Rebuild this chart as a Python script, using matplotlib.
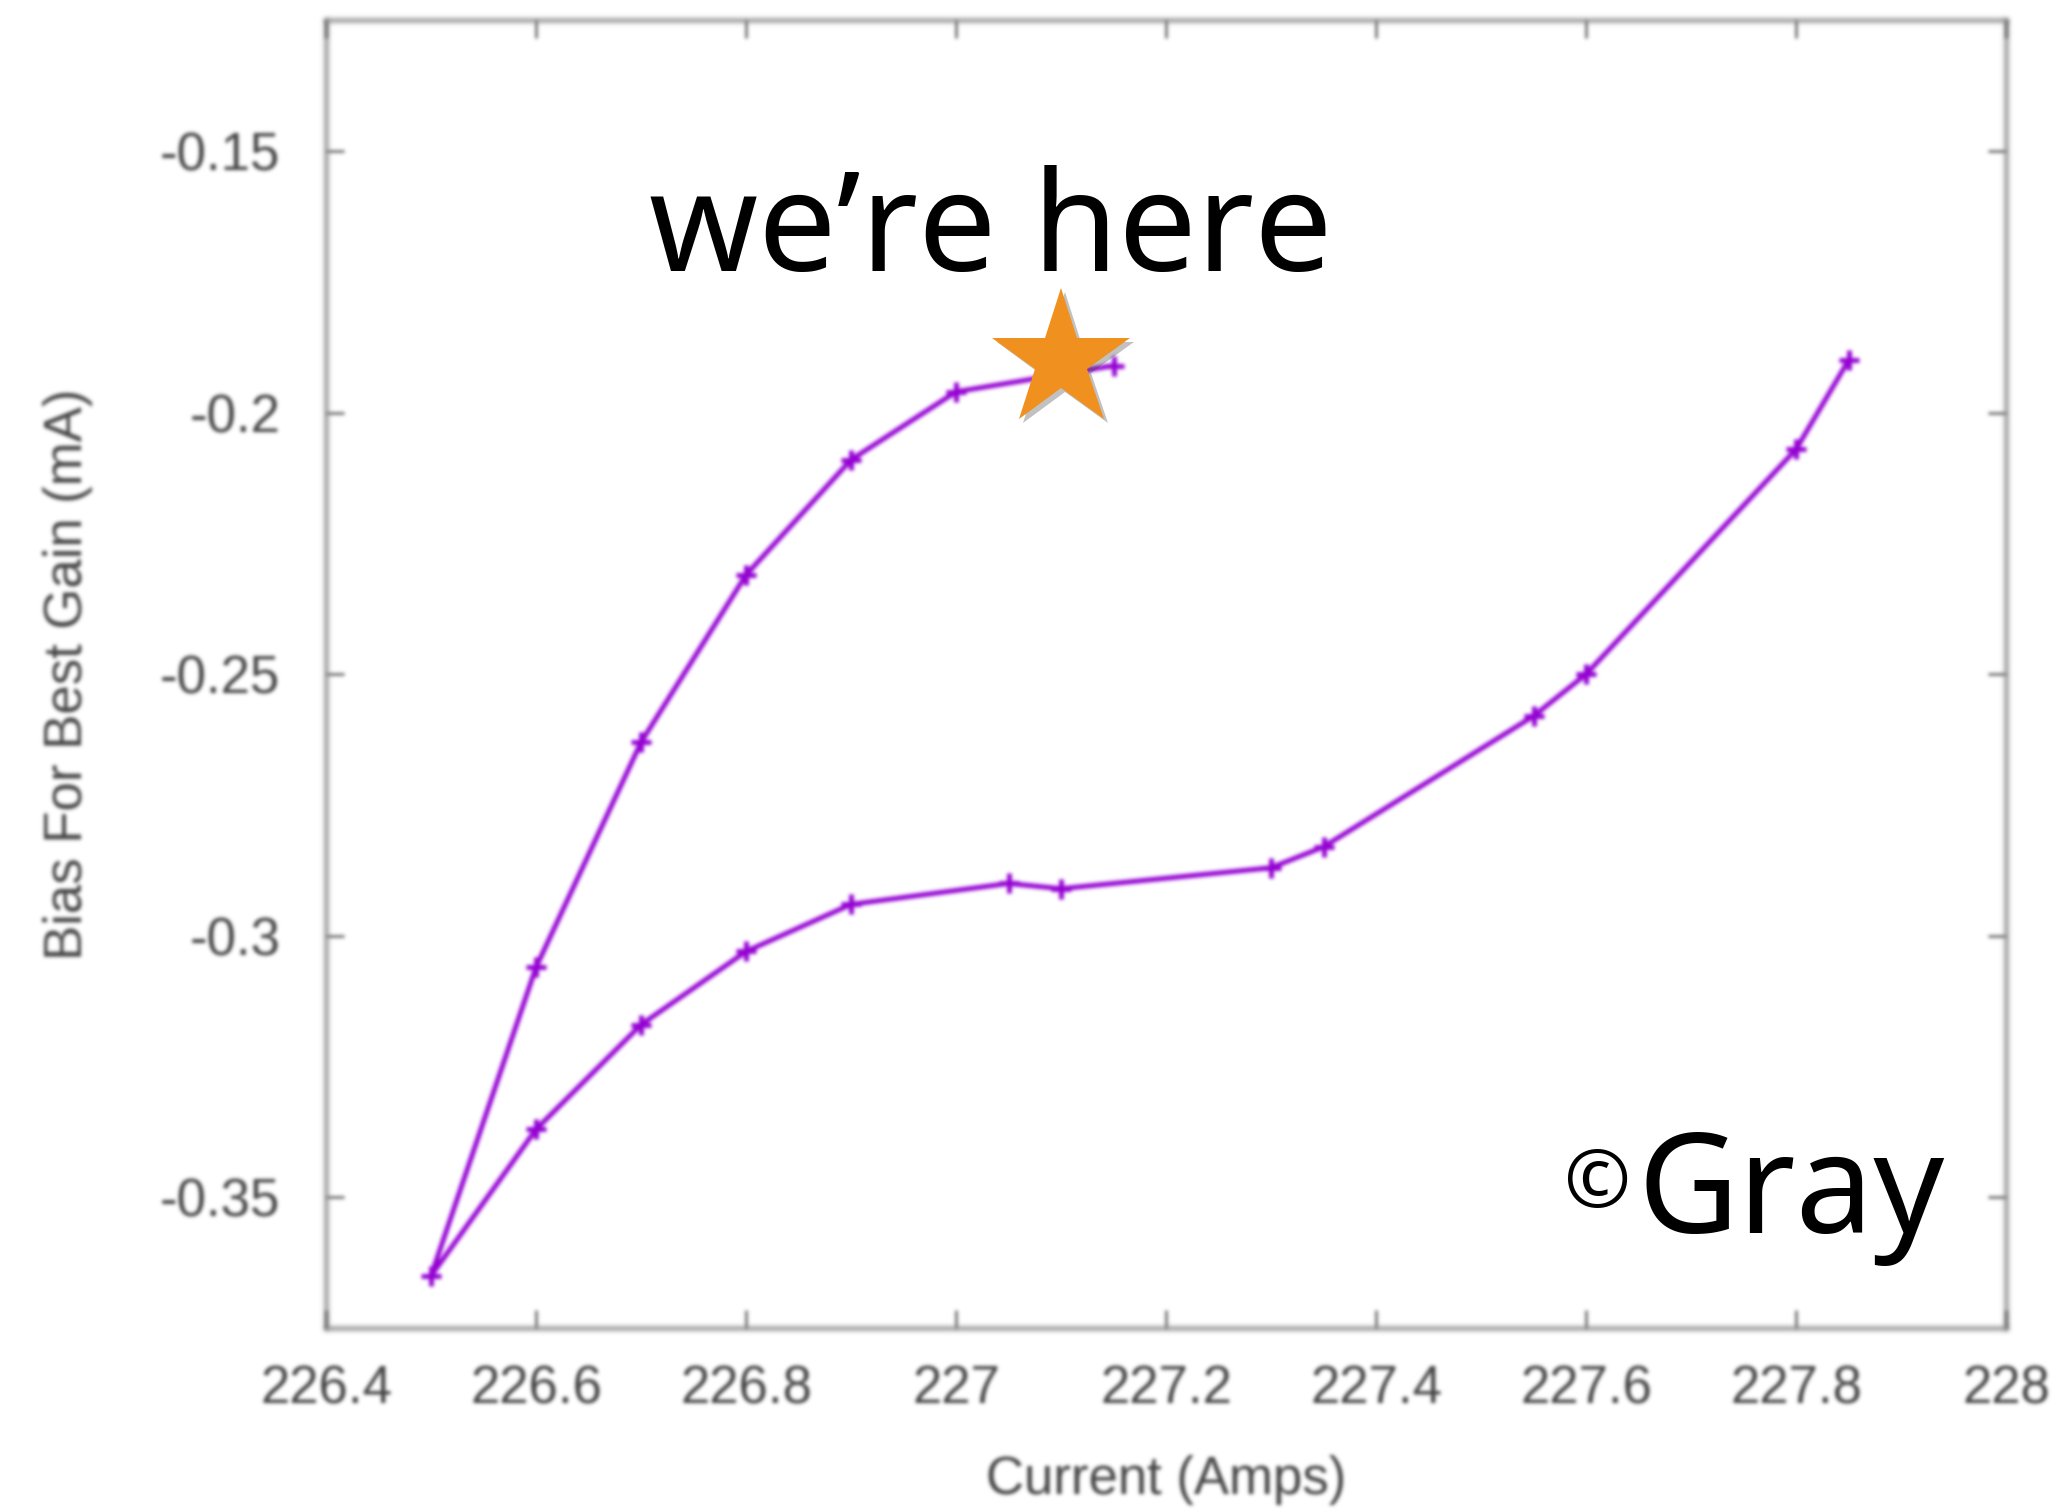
import numpy as np
import matplotlib
matplotlib.use('Agg')
import matplotlib.pyplot as plt
import matplotlib.patheffects as pe

plt.rcParams['axes.unicode_minus'] = False

# sweep back down from the top branch, then up along the lower branch
upper_x = [227.15, 227.0, 226.9, 226.8, 226.7, 226.6, 226.5]
upper_y = [-0.191, -0.196, -0.209, -0.231, -0.263, -0.306, -0.365]
lower_x = [226.6, 226.7, 226.8, 226.9, 227.05, 227.1, 227.3, 227.35, 227.55, 227.6, 227.8, 227.85]
lower_y = [-0.337, -0.317, -0.303, -0.294, -0.290, -0.291, -0.287, -0.283, -0.258, -0.250, -0.207, -0.190]

star_x = 227.1
star_y = -0.190

x_ticks = [226.4, 226.6, 226.8, 227.0, 227.2, 227.4, 227.6, 227.8, 228.0]
x_labels = ['226.4', '226.6', '226.8', '227', '227.2', '227.4', '227.6', '227.8', '228']
y_ticks = [-0.35, -0.3, -0.25, -0.2, -0.15]
y_labels = ['-0.35', '-0.3', '-0.25', '-0.2', '-0.15']


def soft(sigma):
    r = int(3 * sigma)
    k = np.exp(-0.5 * (np.arange(-r, r + 1) / sigma) ** 2)
    k /= k.sum()

    def f(im, dpi):
        p = np.pad(im, [(r, r), (r, r), (0, 0)], 'constant')
        p[..., :3] *= p[..., 3:4]
        for ax_ in (0, 1):
            out = np.zeros_like(p)
            for i, kv in enumerate(k):
                out += kv * np.roll(p, i - r, axis=ax_)
            p = out
        a = p[..., 3:4]
        p[..., :3] = np.where(a > 1e-6, p[..., :3] / np.maximum(a, 1e-6), 0)
        return np.clip(p, 0, 1), -r, -r
    return f


blur = soft(1.8)
axis_font = 'Liberation Sans'
grey = '#444444'

fig = plt.figure(figsize=(20.6, 15.1), dpi=100)
ax = fig.add_axes([0.1583, 0.1205, 0.8155, 0.866])

line, = ax.plot(upper_x + lower_x, upper_y + lower_y, color='#9400D3', lw=3.5,
                marker='+', ms=15, mew=3.5, zorder=3)
line.set_agg_filter(blur)

ax.plot([star_x], [star_y], marker='*', ms=104, color='#F0901E', mec='none', zorder=5,
        path_effects=[pe.withSimplePatchShadow(offset=(3, -3), shadow_rgbFace='#333333', alpha=0.3)])

ax.set_xlim(226.4, 228.0)
ax.set_ylim(-0.375, -0.125)
ax.set_xticks(x_ticks)
ax.set_xticklabels(x_labels)
ax.set_yticks(y_ticks)
ax.set_yticklabels(y_labels)

ax.tick_params(direction='in', length=13, width=2, color='#707070',
               top=True, right=True, labelcolor=grey, labelsize=38)
ax.tick_params(axis='x', pad=26)
ax.tick_params(axis='y', pad=33)
for lab in ax.get_xticklabels() + ax.get_yticklabels():
    lab.set_family(axis_font)
    lab.set_agg_filter(blur)
for t in ax.xaxis.get_major_ticks() + ax.yaxis.get_major_ticks():
    t.tick1line.set_agg_filter(blur)
    t.tick2line.set_agg_filter(blur)
for s in ax.spines.values():
    s.set_color('#7a7a7a')
    s.set_linewidth(2.5)
    s.set_agg_filter(blur)

ax.set_xlabel('Current (Amps)', fontsize=38, color=grey, family=axis_font, va='center')
ax.set_ylabel('Bias For Best Gain (mA)', fontsize=38, color=grey, family=axis_font, va='center')
ax.xaxis.set_label_coords(0.5, -0.116)
ax.yaxis.set_label_coords(-0.1536, 0.5)
ax.xaxis.label.set_agg_filter(blur)
ax.yaxis.label.set_agg_filter(blur)

ax.text(0.3956, 0.8087, 'we\u2019re here', transform=ax.transAxes, fontsize=100,
        family='Noto Sans', ha='center', va='baseline', color='black', zorder=6)
ax.text(0.737, 0.109, '\u00a9', transform=ax.transAxes, fontsize=58,
        family='Noto Sans', ha='left', va='center', color='black', zorder=6)
ax.text(0.7806, 0.0727, 'Gray', transform=ax.transAxes, fontsize=100,
        family='Noto Sans', ha='left', va='baseline', color='black', zorder=6)

fig.savefig('out.png', dpi=100)
